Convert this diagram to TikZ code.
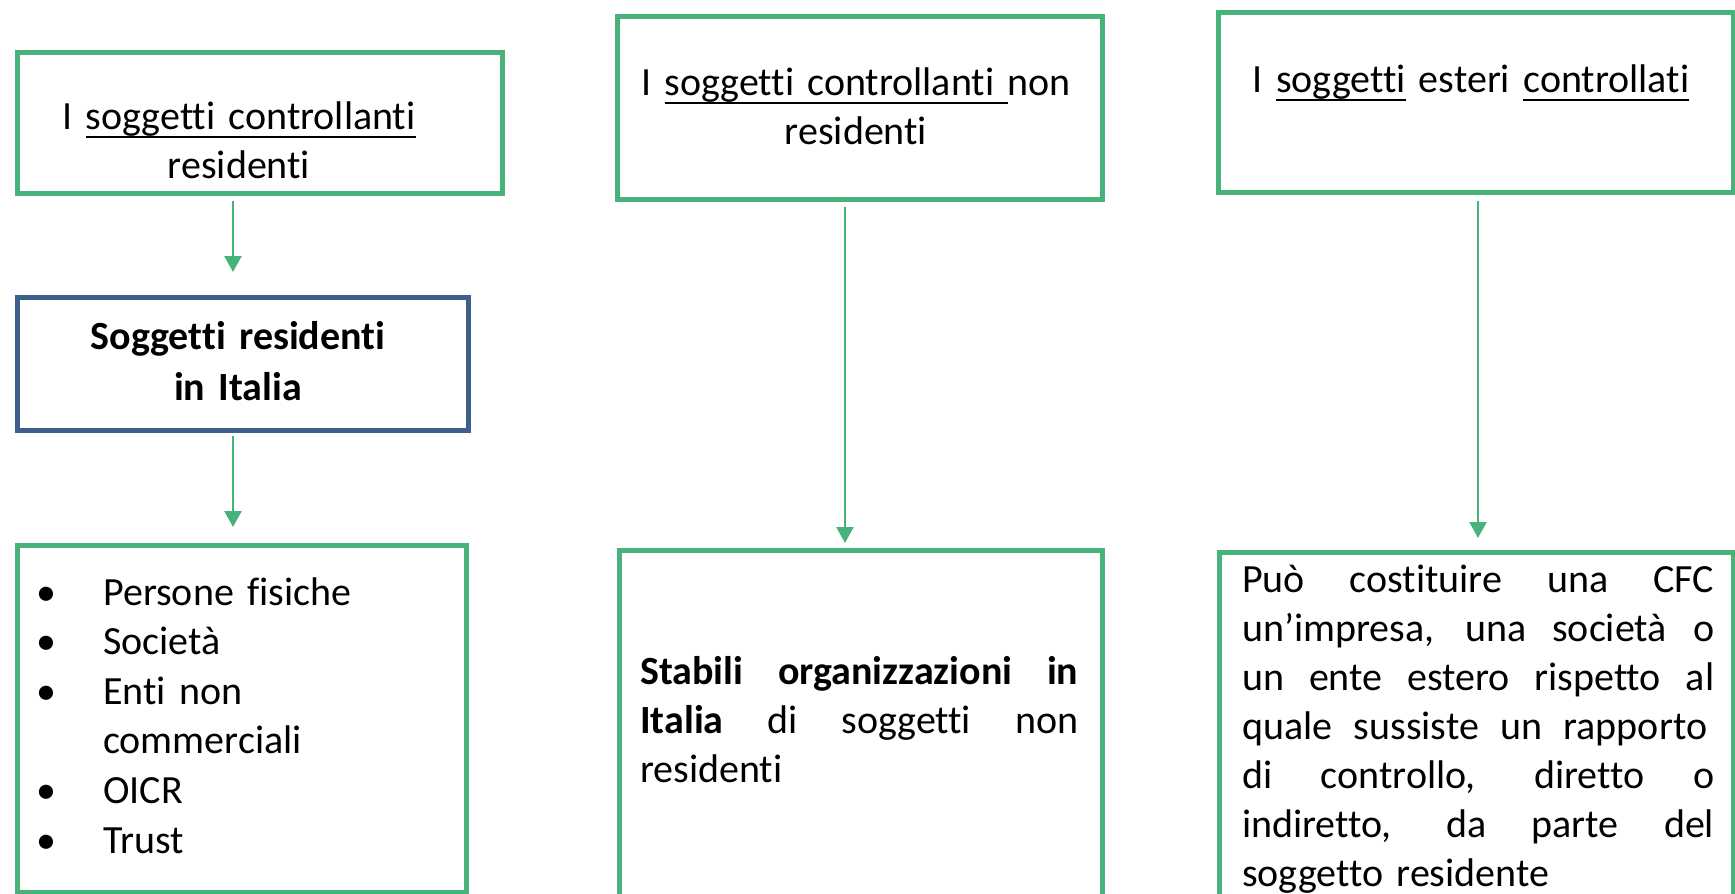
\documentclass[tikz,border=0pt]{standalone}
\usepackage{fontspec}
\setmainfont{Carlito}[Ligatures=NoCommon]
\usetikzlibrary{arrows.meta}
\definecolor{boxgreen}{RGB}{71,178,122}
\definecolor{boxblue}{RGB}{62,95,140}
% underline drawn as a fixed rule under the word group
\newcommand\uln[1]{\setbox0\hbox{#1}\rlap{\rule[-9pt]{\wd0}{2.2pt}}\box0\relax}
% justified line of a given width (interword glue allowed to stretch)
\newcommand\jline[2]{\makebox[#1][s]{\spaceskip=0pt\xspaceskip=0pt\relax #2}}
\newcommand\bul{\makebox[67pt][l]{\textbullet}}
\begin{document}
\begin{tikzpicture}[x=1pt,y=-1pt,
  frame/.style={draw=boxgreen, line width=5pt, inner sep=0pt, anchor=north west},
  bluebox/.style={frame, draw=boxblue},
  txt/.style={inner sep=0pt, anchor=base, font=\fontsize{40}{49}\selectfont},
  arr/.style={draw=boxgreen, line width=2.5pt, -{Triangle[width=17pt,length=16pt]}}]
\useasboundingbox (0,0) rectangle (1735,894);
\clip (0,0) rectangle (1735,894);

% boxes
\node[frame, minimum width=485pt, minimum height=141pt] (b1) at (15,50) {};
\node[bluebox, minimum width=451pt, minimum height=133pt] (b2) at (15,295) {};
\node[frame, minimum width=449pt, minimum height=347pt] (b3) at (15,543) {};
\node[frame, minimum width=485pt, minimum height=183pt] (b4) at (615,14) {};
\node[frame, minimum width=515pt, minimum height=180pt] (b5) at (1216,10) {};
\node[frame, minimum width=483pt, minimum height=500pt] (b6) at (617,548) {};
\node[frame, minimum width=514pt, minimum height=500pt] (b7) at (1217,550) {};

% texts
\node[txt, text width=460pt, align=center] (t1) at (239,129)
  {I \uln{soggetti controllanti}\\ residenti};
\node[txt, text width=420pt, align=center, font=\fontsize{40}{51}\selectfont\bfseries] (t2) at (238,349)
  {Soggetti residenti\\ in Italia};
\node[txt, anchor=base west, text width=420pt, align=left, font=\fontsize{40}{49.6}\selectfont] (t3) at (36,605)
  {\bul Persone fisiche\\ \bul Società\\ \bul Enti non\\ \hspace*{67pt}commerciali\\ \bul OICR\\ \bul Trust};
\node[txt, text width=470pt, align=center] (t4) at (856,95)
  {I \uln{soggetti controllanti\ }non\\ residenti};
\node[txt, text width=500pt, align=center] (t5) at (1471,92)
  {I \uln{soggetti} esteri \uln{controllati}};
\node[txt, anchor=base west, text width=438pt, align=left] (t6) at (640,684)
  {\jline{438pt}{\textbf{Stabili organizzazioni in}}\\ \jline{438pt}{\textbf{Italia} di soggetti non}\\ residenti};
\node[txt, anchor=base west, text width=472pt, align=left] (t7) at (1242,592)
  {\jline{472pt}{Può costituire una CFC}\\
   \jline{472pt}{un’impresa, una società o}\\
   \jline{472pt}{un ente estero rispetto al}\\
   \jline{465pt}{quale sussiste un rapporto}\\
   \jline{472pt}{di controllo, diretto o}\\
   \jline{472pt}{indiretto, da parte del}\\
   soggetto residente};

% connectors
\coordinate (c1) at (233,0);
\coordinate (c2) at (845,0);
\coordinate (c3) at (1478,0);
\draw[arr, shorten <=5pt, shorten >=23pt] (b1.south -| c1) -- (b2.north -| c1);
\draw[arr, shorten <=3pt, shorten >=16pt] (b2.south -| c1) -- (b3.north -| c1);
\draw[arr, shorten <=5pt, shorten >=5pt] (b4.south -| c2) -- (b6.north -| c2);
\draw[arr, shorten <=6pt, shorten >=12pt] (b5.south -| c3) -- (b7.north -| c3);
\end{tikzpicture}
\end{document}
